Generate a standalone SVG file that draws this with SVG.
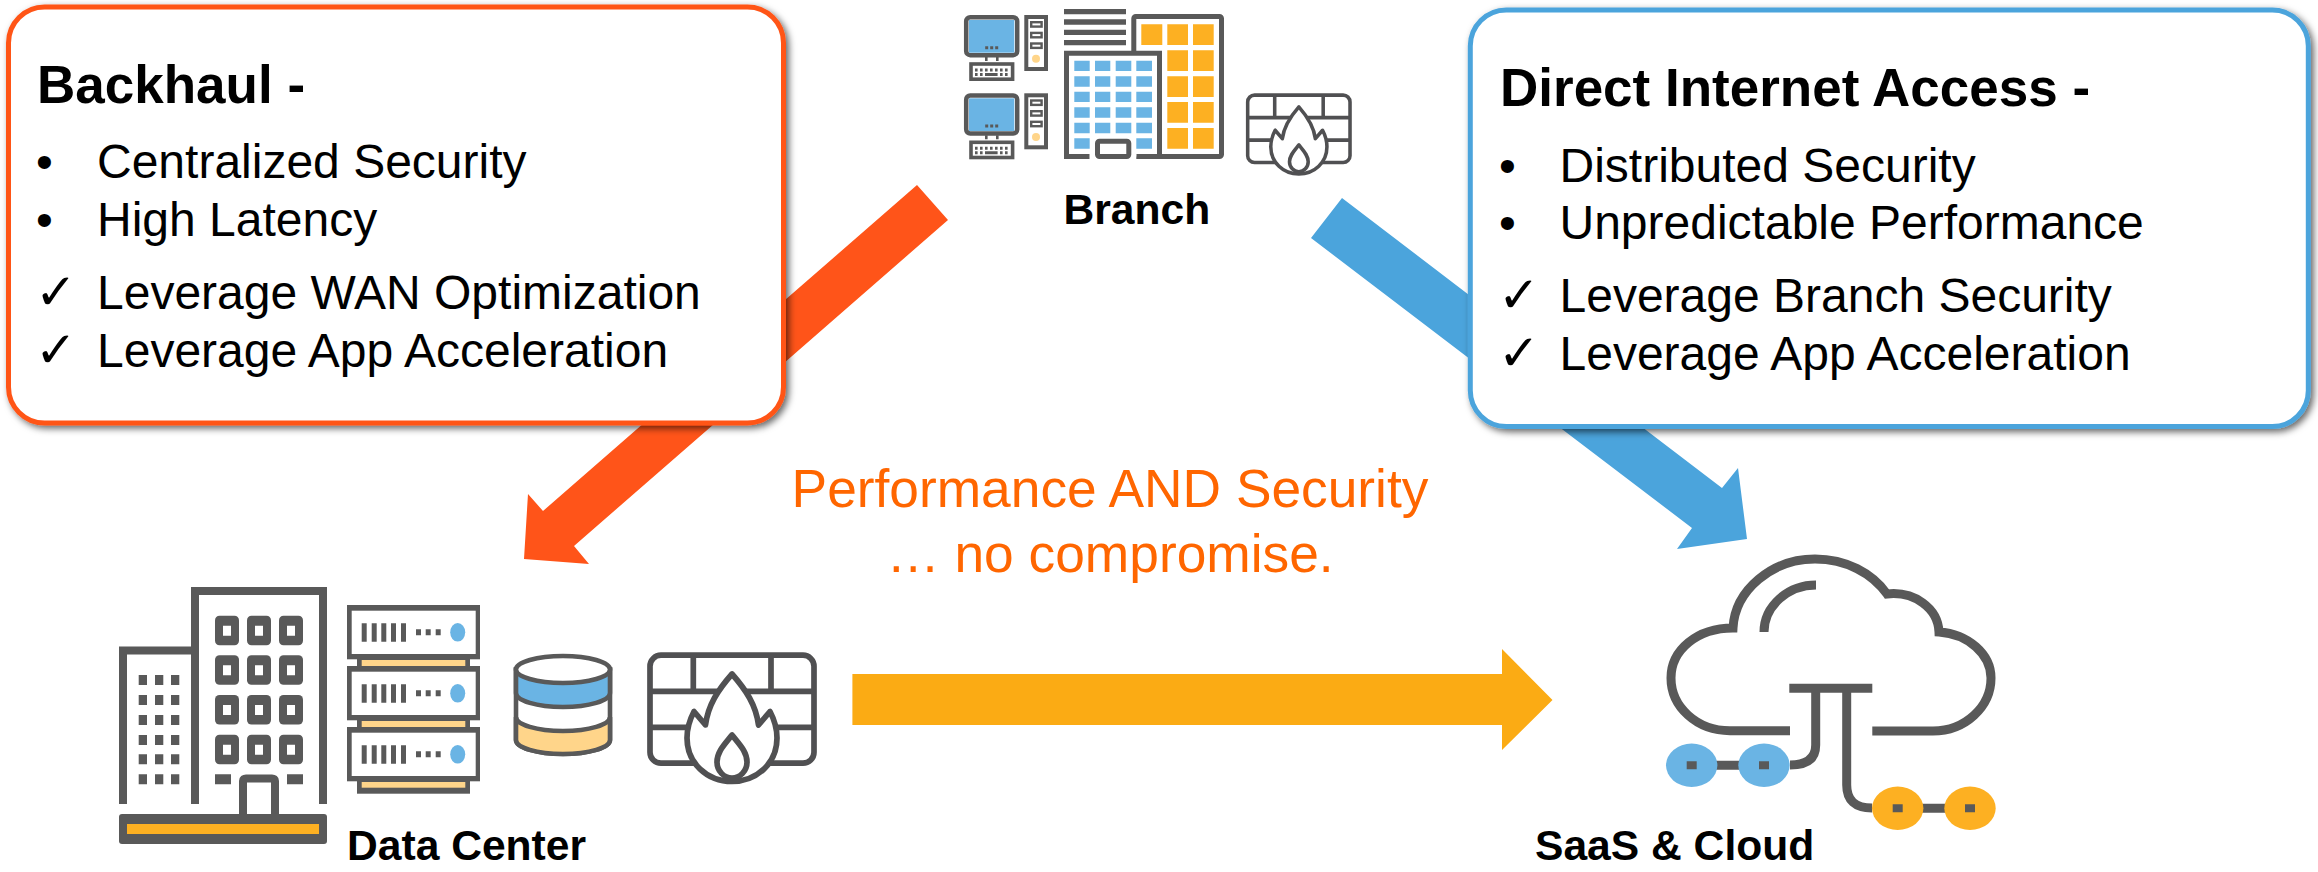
<svg xmlns="http://www.w3.org/2000/svg" xmlns:xlink="http://www.w3.org/1999/xlink" width="2318" height="872" viewBox="0 0 2318 872">
<style>
text{font-family:"Liberation Sans",Arial,sans-serif;fill:#000}
.h{font-size:53px;font-weight:bold}
.b{font-size:48px}
.c{font-size:50px;font-family:"DejaVu Sans",sans-serif}
.n{font-size:42.6px;font-weight:bold}
.o{font-size:53.3px;fill:#FF6600;text-anchor:middle}
.card{fill:#fff;stroke-width:5;filter:url(#sh)}
.d{fill:#595959}
.bl{fill:#6AB4E4}
.ye{fill:#FDB022}
.lye{fill:#FFD58A}
.w{fill:#fff}
.l{fill:none;stroke:#595959;stroke-width:9}
.fw{fill:none;stroke:#505052;stroke-width:5.7;stroke-linejoin:round}
.s{fill:#fff;stroke:#595959}
</style>
<defs>
<filter id="sh" x="-5%" y="-5%" width="110%" height="110%"><feDropShadow dx="3" dy="3" stdDeviation="3.5" flood-color="#000" flood-opacity=".6"/></filter>
<g id="firewall">
<rect class="fw" x="650" y="655.2" width="164" height="108" rx="11"/>
<path class="fw" d="M650,691.3H814M650,727.3H814M693.3,655V691M771,655V691"/>
<path class="fw" style="fill:#fff" d="M732,674C718,690 708,705 705.5,725L694,711.5C689,721 687,729 687,738C687,763 707,781.5 732,781.5C757,781.5 777,763 777,738C777,729 775,721 770,711.5L758.5,725C756,705 746,690 732,674Z"/>
<path class="fw" d="M732,735C724,745 717,752 717,762C717,771 724,778 732,778C740,778 747,771 747,762C747,752 740,745 732,735Z"/>
</g>
<rect id="win" x="0" y="0" width="24" height="29.5" rx="4.5" class="d"/>
<g id="srv">
<rect class="d" x="347" y="605" width="133" height="54.3"/>
<rect class="w" x="351.7" y="610.7" width="124" height="43.3"/>
<rect class="d" x="357" y="659" width="113" height="8"/>
<rect class="lye" x="361.7" y="660" width="103.6" height="6"/>
<path class="d" d="M361.7,623.3h5v18.4h-5zM371.7,623.3h5v18.4h-5zM381.3,623.3h5v18.4h-5zM391,623.3h5v18.4h-5zM401,623.3h5v18.4h-5zM416,629.3h5v6h-5zM425.7,629.3h5v6h-5zM435.7,629.3h5v6h-5z"/>
<ellipse class="bl" cx="457.7" cy="632.3" rx="7.5" ry="9.3"/>
</g>
<g id="pc">
<rect x="966.2" y="17.2" width="51" height="38" rx="4" fill="none" stroke="#595959" stroke-width="4.5"/>
<rect class="bl" x="969" y="20" width="45.3" height="32.7"/>
<path class="d" d="M985.2,46.2h3v3h-3zM990.2,46.2h3v3h-3zM995.2,46.2h3v3h-3zM985,57h2.6v4H985zM996,57h2.6v4H996z"/>
<rect class="s" x="971" y="64" width="41.6" height="15.2" stroke-width="3.6"/>
<path class="d" d="M975,68.5h2.6v3H975zM980,68.5h2.6v3H980zM985,68.5h2.6v3H985zM990,68.5h2.6v3H990zM995,68.5h2.6v3H995zM1000,68.5h2.6v3H1000zM1005,68.5h2.6v3H1005zM975,73h2.6v3H975zM980,73h2.6v3H980zM985,73h12.6v3H985zM1000,73h2.6v3H1000zM1005,73h2.6v3H1005z"/>
<rect class="s" x="1026.3" y="17" width="19.7" height="52" stroke-width="4"/>
<rect class="s" x="1031.2" y="22.2" width="10.4" height="4.4" stroke-width="2.4"/>
<rect class="s" x="1031.2" y="32.9" width="10.4" height="4.4" stroke-width="2.4"/>
<rect class="s" x="1031.2" y="43.5" width="10.4" height="4.4" stroke-width="2.4"/>
<circle class="lye" cx="1036" cy="58.7" r="4"/>
</g>
</defs>
<rect width="2318" height="872" fill="#fff"/>

<g id="connectors">
<polygon id="edge-backhaul" fill="#FF5419" points="917,185 948,220 574,546 589,564 524,559 528,494 543,511"/>
<polygon id="edge-direct" fill="#4BA4DC" points="1342,198 1722,488 1738,468 1747,539 1677,549 1692,528 1311,238"/>
<polygon id="edge-dc-saas" fill="#FBAB14" points="852.4,674 1502,674 1502,649 1552.5,700 1502,750 1502,725 852.4,725"/>
</g>

<g id="box-backhaul">
<rect class="card" x="8.5" y="7" width="775" height="416" rx="36" stroke="#FF5419"/>
<text class="h" x="37" y="103">Backhaul -</text>
<text class="b" x="36" y="178">•</text><text class="b" x="97" y="178">Centralized Security</text>
<text class="b" x="36" y="236">•</text><text class="b" x="97" y="236">High Latency</text>
<text class="c" x="35" y="309">✓</text><text class="b" x="97" y="309">Leverage WAN Optimization</text>
<text class="c" x="35" y="367">✓</text><text class="b" x="97" y="367">Leverage App Acceleration</text>
</g>

<g id="box-dia">
<rect class="card" x="1470.3" y="10" width="838" height="416.5" rx="36" stroke="#4BA4DC"/>
<text class="h" x="1500" y="106">Direct Internet Access -</text>
<text class="b" x="1499" y="182">•</text><text class="b" x="1559.5" y="182">Distributed Security</text>
<text class="b" x="1499" y="239">•</text><text class="b" x="1559.5" y="239">Unpredictable Performance</text>
<text class="c" x="1498" y="312">✓</text><text class="b" x="1559.5" y="312">Leverage Branch Security</text>
<text class="c" x="1498" y="370">✓</text><text class="b" x="1559.5" y="370">Leverage App Acceleration</text>
</g>

<g id="node-branch">
<use xlink:href="#pc" href="#pc"/>
<use xlink:href="#pc" href="#pc" y="78.3"/>
<path class="d" d="M1064,9h62v5.3h-62zM1064,19.3h62v5.4h-62zM1064,29.7h62V35h-62zM1064,40h62v5.3h-62z"/>
<rect class="s" x="1133.8" y="16.5" width="87.7" height="140" rx="2" stroke-width="5"/>
<path class="ye" d="M1141.3,24.3h21v20.7h-21zM1167.3,24.3h20.7v20.7h-20.7zM1193,24.3h20.7v20.7H1193zM1167.3,50.3h20.7V71h-20.7zM1193,50.3h20.7V71H1193zM1167.3,76.3h20.7V97h-20.7zM1193,76.3h20.7V97H1193zM1167.3,102h20.7v20.7h-20.7zM1193,102h20.7v20.7H1193zM1167.3,128h20.7v20.7h-20.7zM1193,128h20.7v20.7H1193z"/>
<path fill="#fff" stroke="#595959" stroke-width="5" d="M1089.7,156.5H1066.5V53.2H1159.5V156.5H1136.3"/>
<rect class="w" x="1089.7" y="153" width="46.6" height="7"/>
<path class="bl" d="M1074.3,60.7h15.4V71h-15.4zM1095,60.7h15.3V71H1095zM1115.7,60.7h15.6V71h-15.6zM1136.3,60.7h15.7V71h-15.7zM1074.3,76.3h15.4v10.4h-15.4zM1095,76.3h15.3v10.4H1095zM1115.7,76.3h15.6v10.4h-15.6zM1136.3,76.3h15.7v10.4h-15.7zM1074.3,91.7h15.4V102h-15.4zM1095,91.7h15.3V102H1095zM1115.7,91.7h15.6V102h-15.6zM1136.3,91.7h15.7V102h-15.7zM1074.3,107.3h15.4v10.4h-15.4zM1095,107.3h15.3v10.4H1095zM1115.7,107.3h15.6v10.4h-15.6zM1136.3,107.3h15.7v10.4h-15.7zM1074.3,122.7h15.4v10.6h-15.4zM1095,122.7h15.3v10.6H1095zM1115.7,122.7h15.6v10.6h-15.6zM1136.3,122.7h15.7v10.6h-15.7zM1074.3,138.3h15.4v10.4h-15.4zM1136.3,138.3h15.7v10.4h-15.7z"/>
<rect class="s" x="1097.5" y="141.2" width="31.3" height="15.4" rx="2" stroke-width="5"/>
<use xlink:href="#firewall" href="#firewall" transform="translate(1246,93.3) scale(.624) translate(-647.3,-652.3)"/>
<text class="n" x="1063.5" y="224">Branch</text>
</g>

<g id="node-datacenter">
<path class="l" style="stroke-width:8" d="M123,804V650.5H195M195,804V591H323V804"/>
<path class="d" d="M138.7,675h8.3v10h-8.3zM155,675h8.3v10H155zM171,675h8.3v10H171zM138.7,695h8.3v10h-8.3zM155,695h8.3v10H155zM171,695h8.3v10H171zM138.7,715h8.3v10h-8.3zM155,715h8.3v10H155zM171,715h8.3v10H171zM138.7,735h8.3v10h-8.3zM155,735h8.3v10H155zM171,735h8.3v10H171zM138.7,754.3h8.3v10h-8.3zM155,754.3h8.3v10H155zM171,754.3h8.3v10H171zM138.7,774.3h8.3v10h-8.3zM155,774.3h8.3v10H155zM171,774.3h8.3v10H171zM215,774.3h16v10h-16zM287,774.3h16v10h-16z"/>
<g id="dc-windows">
<use xlink:href="#win" href="#win" x="215" y="615.7"/><use xlink:href="#win" href="#win" x="247" y="615.7"/><use xlink:href="#win" href="#win" x="279" y="615.7"/>
<use xlink:href="#win" href="#win" x="215" y="655.3"/><use xlink:href="#win" href="#win" x="247" y="655.3"/><use xlink:href="#win" href="#win" x="279" y="655.3"/>
<use xlink:href="#win" href="#win" x="215" y="695"/><use xlink:href="#win" href="#win" x="247" y="695"/><use xlink:href="#win" href="#win" x="279" y="695"/>
<use xlink:href="#win" href="#win" x="215" y="734.7"/><use xlink:href="#win" href="#win" x="247" y="734.7"/><use xlink:href="#win" href="#win" x="279" y="734.7"/>
<path class="w" d="M223,625.7h8v10h-8zM255,625.7h8v10h-8zM287,625.7h8v10h-8zM223,665.3h8v10h-8zM255,665.3h8v10h-8zM287,665.3h8v10h-8zM223,705h8v10h-8zM255,705h8v10h-8zM287,705h8v10h-8zM223,744.7h8v10h-8zM255,744.7h8v10h-8zM287,744.7h8v10h-8z"/>
</g>
<path class="l" style="stroke-width:8" d="M243,816V781Q243,778.5 246,778.5H272Q275,778.5 275,781V816"/>
<rect class="d" x="119" y="814" width="208" height="30" rx="3"/>
<rect class="ye" x="127" y="824" width="192" height="10"/>
<use xlink:href="#srv" href="#srv"/>
<use xlink:href="#srv" href="#srv" y="61"/>
<use xlink:href="#srv" href="#srv" y="122"/>
<rect class="d" x="357" y="787.7" width="113" height="6"/>
<path class="w" stroke="#595959" stroke-width="4.6" d="M516,669.5V740A47,14 0 0 0 610,740V669.5Z"/>
<path class="bl" stroke="#595959" stroke-width="4.6" d="M516,669.5V693A47,14 0 0 0 610,693V669.5Z"/>
<path class="lye" stroke="#595959" stroke-width="4.6" d="M516,717A47,14 0 0 0 610,717V740A47,14 0 0 1 516,740Z"/>
<ellipse class="w" stroke="#595959" stroke-width="4.6" cx="563" cy="669.5" rx="47" ry="13.5"/>
<use xlink:href="#firewall" href="#firewall"/>
<text class="n" x="347" y="860">Data Center</text>
</g>

<g id="node-saas">
<path class="l" d="M1790,730.7H1730C1697,730.7 1671,707 1671,678C1671,650 1697,628 1733,628C1735,590 1772,559 1815,559C1846,559 1872,573 1887,594C1914,591 1938,608 1939,632C1968,634 1991,654 1991,678C1991,707 1965,731 1933,731H1872.3"/>
<path class="l" d="M1764,632C1764,606 1788,585 1816,585M1789.3,688.2H1872.3M1815.7,688V745Q1815.7,765 1790,765M1846.7,688V785Q1846.7,808 1872,808M1700,765.3H1760M1900,808.3H1965"/>
<ellipse class="bl" cx="1691.7" cy="765.3" rx="25.7" ry="21.7"/>
<ellipse class="bl" cx="1764" cy="765.3" rx="25.7" ry="21.7"/>
<ellipse class="ye" cx="1897.7" cy="808.3" rx="25.7" ry="21.7"/>
<ellipse class="ye" cx="1970" cy="808.3" rx="25.7" ry="21.7"/>
<path class="d" d="M1686.7,761.3h10v8h-10zM1759,761.3h10v8h-10zM1892.7,804.3h10v8h-10zM1965,804.3h10v8h-10z"/>
<text class="n" x="1535" y="860">SaaS &amp; Cloud</text>
</g>

<g id="label-center">
<text class="o" x="1110" y="507">Performance AND Security</text>
<text class="o" x="1110" y="572">… no compromise.</text>
</g>
</svg>
